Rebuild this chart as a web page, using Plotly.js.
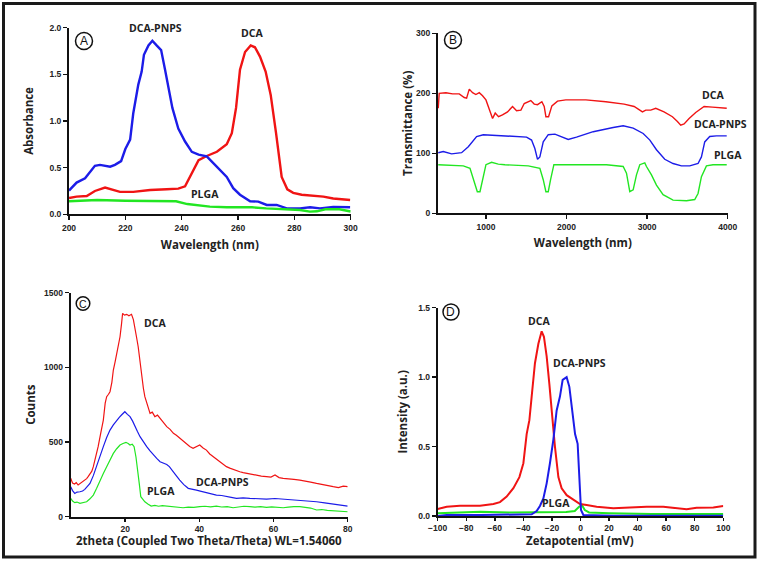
<!DOCTYPE html>
<html>
<head>
<meta charset="utf-8">
<script src="https://cdn.plot.ly/plotly-3.0.1.min.js"></script>
<style>
  html, body { margin: 0; padding: 0; background: #fff; }
  #chart { width: 761px; height: 563px; }
</style>
</head>
<body>
<div id="chart"></div>
<script>
// ---------- (A) UV-Vis absorbance ----------
const uvDcaX  = [200,202.7,206.3,209.2,212.8,215.7,218.1,222.8,225.2,228.8,234.7,238.8,241.2,243.6,246,248.9,252.5,256,257.8,259.3,260.7,262.5,264.5,266,267.8,269.8,271.6,273.5,275.5,277.5,279.6,282.6,286.7,290.3,293.8,299.8];
const uvDcaY  = [0.175,0.19,0.196,0.25,0.286,0.26,0.24,0.24,0.25,0.26,0.268,0.275,0.30,0.44,0.58,0.625,0.67,0.75,0.87,1.14,1.55,1.74,1.81,1.79,1.69,1.53,1.28,0.87,0.40,0.268,0.23,0.21,0.196,0.19,0.17,0.154];
const uvPnpX  = [200,202.7,205.7,209.2,211,214.6,216.3,218.5,220,221.7,222.8,224.6,225.8,226.6,228.2,229.6,231.1,232.7,234.1,235.3,236.7,238.8,241.2,243.6,246,248.9,251.2,253.6,256,258.3,260.7,264.3,267.2,270.2,273.7,277.3,282,285.6,289.1,293.8,299.8];
const uvPnpY  = [0.254,0.34,0.386,0.52,0.53,0.51,0.53,0.57,0.70,0.80,1.08,1.39,1.53,1.71,1.81,1.86,1.81,1.76,1.55,1.37,1.14,0.92,0.78,0.67,0.64,0.62,0.55,0.475,0.40,0.28,0.21,0.14,0.136,0.10,0.10,0.064,0.064,0.075,0.064,0.08,0.075];
const uvPlgX  = [200,210,220,230,238,242,246,250,256,265,270,276,282,285.5,288,291,296,300];
const uvPlgY  = [0.14,0.154,0.146,0.143,0.14,0.11,0.093,0.082,0.075,0.075,0.064,0.054,0.046,0.029,0.032,0.054,0.054,0.03];

// ---------- (B) FTIR transmittance ----------
const irDcaX = [408,420,503,586,669,731,760,793,834,875,917,958,1000,1040,1082,1115,1156,1205,1268,1330,1380,1434,1475,1557,1599,1640,1694,1723,1744,1777,1818,1888,1991,2240,2488,2715,2839,2942,2983,3045,3107,3210,3314,3376,3417,3459,3521,3603,3707,3810,3988];
const irDcaY = [175,200,201,199,199,193,192,207,201,198,201,196,189,172,158,167,161,164,169,178,171,172,183,188,182,181,186,178,161,161,179,187,189,189,186,182,178,169,172,172,175,169,161,153,147,149,158,168,178,177,175];
const irPnpX = [408,470,574,698,781,884,967,1174,1380,1504,1566,1607,1640,1669,1711,1773,1856,1959,2021,2124,2331,2579,2703,2827,2951,3034,3116,3219,3322,3426,3529,3632,3674,3715,3777,3860,3988];
const irPnpY = [101,103,99,101,111,128,131,129,128,127,122,108,90,94,119,131,132,127,123,127,136,143,146,142,133,122,106,90,83,79,79,83,94,119,128,129,129];
const irPlgX = [408,719,802,851,893,926,959,1000,1070,1153,1236,1525,1669,1711,1744,1773,1802,1843,2000,2496,2703,2744,2785,2827,2868,2909,2971,2992,3054,3116,3198,3322,3488,3591,3632,3674,3736,3818,3988];
const irPlgY = [81,79,75,56,36,36,56,81,85,82,81,79,75,56,36,36,56,81,81,81,78,67,36,39,64,81,84,78,64,47,31,22,21,23,33,61,79,81,81];

// ---------- (C) XRD counts ----------
const xrdDcaX = [5.3,5.8,6.3,6.8,7.3,7.8,8.3,8.7,9.2,9.6,10,10.5,11,11.4,12,12.7,13.4,14.1,14.6,15,15.5,15.9,16.4,16.8,17.3,17.7,18.2,18.6,19,19.3,19.8,20.4,21,21.7,22.2,22.6,23,23.5,24,24.4,24.9,25.3,26,26.7,27.3,28,28.7,29.4,30.3,31.2,32.1,33,33.8,34.7,35.6,36.5,37.4,38.3,39.2,40.1,41,41.9,42.8,43.7,44.6,45.5,46.4,47.3,48.2,49.1,50,50.9,51.8,52.7,54,55.4,56.7,58.1,59.3,60.4,61.5,62.6,64,65.5,67.1,68.5,70,71.6,73,74.5,76.1,77.5,78.8,80];
const xrdDcaY = [257,225,219,228,212,222,230,234,248,255,268,285,305,335,390,469,560,647,760,804,820,837,900,982,1040,1094,1150,1205,1290,1362,1350,1355,1345,1355,1320,1272,1210,1138,1040,937,860,804,745,692,700,670,680,658,630,603,585,558,545,525,505,491,470,458,470,480,460,446,420,402,385,368,350,335,325,317,305,301,295,290,283,279,272,268,265,279,262,257,255,250,245,240,232,223,215,208,201,195,205,201];
const xrdPnpX = [5.3,5.8,6.4,7,7.8,8.5,9.1,9.8,10.5,11.4,12.3,13.2,14.1,15,15.9,16.8,17.7,18.4,19,19.5,19.9,20.6,21.3,22,22.6,23.3,24,24.9,25.8,26.7,27.6,28.5,29.4,30.3,31.2,31.9,32.5,33.6,34.7,35.8,37,38.1,39.2,40.5,41.9,43.2,44.6,46,47.3,48.6,50,51.8,53.6,55.8,58.1,60.4,62.6,64.8,67.1,69.3,71.6,73.8,76.1,78,80];
const xrdPnpY = [201,175,156,165,167,172,183,200,223,275,335,400,469,530,580,615,647,665,681,695,703,685,670,640,603,570,536,500,469,440,413,390,368,360,350,335,313,280,245,215,190,182,178,170,161,152,145,142,138,130,123,126,123,120,118,122,118,112,107,104,100,92,85,78,71];
const xrdPlgX = [5.3,5.8,6.4,7,7.8,8.7,9.6,10.5,11.4,12.3,13.2,14.1,15,15.9,16.8,17.7,18.6,19.4,20.2,20.8,21.3,21.9,22.4,22.9,23.4,23.8,24.2,24.8,25.3,26.1,27,28,29,30,31.2,32.5,34,35.6,37,38.5,40.1,41.5,43,44.6,46,47.5,49.1,50.5,52,53.6,55,56.5,58.1,59.5,61,62.6,64,65.5,67.1,68.5,70,71.6,73,74.5,76.1,78,80];
const xrdPlgY = [123,105,94,98,89,95,100,120,145,190,245,290,335,380,424,455,480,490,498,490,480,485,469,400,313,220,134,115,100,85,71,76,70,74,71,68,65,60,64,62,67,70,66,71,65,68,60,66,70,67,64,68,63,66,62,60,64,68,67,62,58,45,48,42,40,38,33];

// ---------- (D) Zeta potential ----------
const zDcaX = [-100,-93.7,-84.4,-70.4,-61,-56.4,-51.7,-47,-42.8,-40,-37.7,-35.8,-34.2,-31.9,-29.5,-27.2,-25.6,-23.7,-21.8,-20.2,-17.9,-15.5,-13.2,-9.7,-5,-0.35,4.3,11.3,23,46.3,58,69.7,74.3,81.3,93,100];
const zDcaY = [0.05,0.067,0.074,0.074,0.086,0.10,0.14,0.20,0.28,0.38,0.59,0.69,0.86,1.10,1.24,1.33,1.29,1.15,0.95,0.76,0.50,0.28,0.20,0.15,0.115,0.086,0.079,0.067,0.055,0.067,0.067,0.055,0.048,0.06,0.062,0.072];
const zPnpX = [-100,-93.7,-70.4,-47,-34.2,-30.7,-28.4,-26,-23.7,-21.4,-19,-16.7,-14.4,-12.5,-9.7,-7.8,-5.5,-3.8,-2,-0.8,0.35,2,23,100];
const zPnpY = [0,0.007,0.007,0.007,0.012,0.036,0.072,0.127,0.235,0.38,0.55,0.76,0.86,0.98,1.0,0.93,0.74,0.59,0.52,0.26,0.043,0.007,0.002,0.002];
const zPlgX = [-100,-90,-70,-50,-30,-10,-4,-1,1,3,6,20,50,100];
const zPlgY = [0.02,0.024,0.031,0.026,0.029,0.029,0.036,0.067,0.079,0.043,0.026,0.02,0.014,0.014];

const seriesNames = ['DCA', 'DCA-PNPS', 'PLGA'];
const RED = '#f01414', BLUE = '#1c1ce8', GREEN = '#22e622';

const W = 761, H = 563;
const px = v => v / W;
const py = v => 1 - v / H;

function line(x, y, color, width, xa, ya, name) {
  return { x, y, type: 'scatter', mode: 'lines', name,
           line: { color, width }, xaxis: xa, yaxis: ya,
           hoverinfo: 'skip', showlegend: false };
}

const data = [
  line(uvDcaX, uvDcaY, RED, 2.4, 'x', 'y', seriesNames[0]),
  line(uvPnpX, uvPnpY, BLUE, 2.4, 'x', 'y', seriesNames[1]),
  line(uvPlgX, uvPlgY, GREEN, 2.4, 'x', 'y', seriesNames[2]),
  line(irDcaX, irDcaY, RED, 1.4, 'x2', 'y2', seriesNames[0]),
  line(irPnpX, irPnpY, BLUE, 1.4, 'x2', 'y2', seriesNames[1]),
  line(irPlgX, irPlgY, GREEN, 1.4, 'x2', 'y2', seriesNames[2]),
  line(xrdDcaX, xrdDcaY, RED, 1.2, 'x3', 'y3', seriesNames[0]),
  line(xrdPnpX, xrdPnpY, BLUE, 1.2, 'x3', 'y3', seriesNames[1]),
  line(xrdPlgX, xrdPlgY, GREEN, 1.2, 'x3', 'y3', seriesNames[2]),
  line(zPlgX, zPlgY, GREEN, 2, 'x4', 'y4', seriesNames[2]),
  line(zDcaX, zDcaY, RED, 2, 'x4', 'y4', seriesNames[0]),
  line(zPnpX, zPnpY, BLUE, 2, 'x4', 'y4', seriesNames[1])
];

const tickFont = { family: 'Liberation Sans, Arial, sans-serif', size: 8.5, color: '#222', weight: 'bold' };
const titleFont = { family: 'Open Sans, sans-serif', size: 11.5, color: '#222', weight: 'bold' };

function xAxis(domain, range, tickvals, title, anchor, standoff, ticklen) {
  const ax = { domain, range, tickvals, anchor, showline: true, linecolor: '#111', linewidth: 2,
           ticks: 'outside', ticklen: ticklen || 4, tickwidth: 1.5, tickcolor: '#111',
           showgrid: false, zeroline: false, tickfont: tickFont };
  if (title) ax.title = { text: title, font: titleFont, standoff };
  return ax;
}
function yAxis(domain, range, tickvals, fmt, title, anchor, standoff) {
  return { domain, range, tickvals, tickformat: fmt, anchor, showline: true, linecolor: '#111', linewidth: 2,
           ticks: 'outside', ticklen: 4, tickwidth: 1.5, tickcolor: '#111',
           showgrid: false, zeroline: false, tickfont: tickFont,
           title: { text: title, font: titleFont, standoff } };
}

const labelFont = { family: 'Open Sans, sans-serif', size: 10.5, color: '#222', weight: 'bold' };
function label(text, x, y, font) {
  return { text, x: px(x), y: py(y), xref: 'paper', yref: 'paper', showarrow: false,
           xanchor: 'center', yanchor: 'middle', font: font || labelFont };
}
function badge(letter, cx, cy, size) {
  return { text: letter, x: px(cx), y: py(cy), xref: 'paper', yref: 'paper', showarrow: false,
           xanchor: 'center', yanchor: 'middle',
           font: { family: 'Liberation Sans, Arial, sans-serif', size, color: '#111' } };
}
function ring(cx, cy, r) {
  return { type: 'circle', xref: 'paper', yref: 'paper',
           x0: px(cx - r), x1: px(cx + r), y0: py(cy + r), y1: py(cy - r),
           line: { color: '#111', width: 1.5 } };
}

const layout = {
  width: W, height: H,
  margin: { l: 0, r: 0, t: 0, b: 0 },
  paper_bgcolor: '#fff', plot_bgcolor: 'rgba(0,0,0,0)',
  showlegend: false,
  xaxis:  xAxis([px(69), px(350.7)], [200, 300], [200, 220, 240, 260, 280, 300], 'Wavelength (nm)', 'y', 9),
  yaxis:  yAxis([py(214.3), py(27.7)], [0, 2], [0, 0.5, 1, 1.5, 2], '.1f', 'Absorbance', 'x', 13),
  xaxis2: xAxis([px(438), px(727.7)], [405, 4000], [1000, 2000, 3000, 4000], 'Wavelength (nm)', 'y2', 8),
  yaxis2: yAxis([py(213.3), py(33.3)], [0, 300], [0, 100, 200, 300], '', 'Transmittance (%)', 'x2', 1),
  // bottom-row x titles sit tight under the tick labels, placed as annotations below
  xaxis3: xAxis([px(70.7), px(347.7)], [5.3, 80], [20, 40, 60, 80], null, 'y3', 0, 3),
  yaxis3: yAxis([py(516.7), py(292.7)], [0, 1500], [0, 500, 1000, 1500], '', 'Counts', 'x3', 6),
  xaxis4: xAxis([px(437.7), px(723.3)], [-100, 100], [-100, -80, -60, -40, -20, 0, 20, 40, 60, 80, 100], null, 'y4', 0, 3),
  yaxis4: yAxis([py(516), py(307.7)], [0, 1.5], [0, 0.5, 1, 1.5], '.1f', 'Intensity (a.u.)', 'x4', 8),
  shapes: [
    { type: 'rect', xref: 'paper', yref: 'paper', x0: px(3.5), x1: px(755), y0: py(557), y1: py(3.5),
      line: { color: '#1a1a1a', width: 3 } },
    ring(84, 41, 8.5), ring(453, 40, 8.5), ring(83, 303.5, 6.8), ring(451, 312, 8)
  ],
  annotations: [
    badge('A', 84, 41, 12), badge('B', 453, 40, 12), badge('C', 83, 303.5, 10.5), badge('D', 451, 312, 12),
    label('2theta (Coupled Two Theta/Theta) WL=1.54060', 209, 540.5, titleFont),
    label('Zetapotential (mV)', 580, 540.5, titleFont),
    label('DCA-PNPS', 155, 28), label('DCA', 252, 33), label('PLGA', 205, 194),
    label('DCA', 713, 95), label('DCA-PNPS', 720, 124), label('PLGA', 728, 155),
    label('DCA', 155, 323), label('DCA-PNPS', 222, 482), label('PLGA', 161, 491),
    label('DCA', 539, 321), label('DCA-PNPS', 579, 363), label('PLGA', 556, 503)
  ]
};

Plotly.newPlot('chart', data, layout, { staticPlot: true, displayModeBar: false });
</script>
</body>
</html>
